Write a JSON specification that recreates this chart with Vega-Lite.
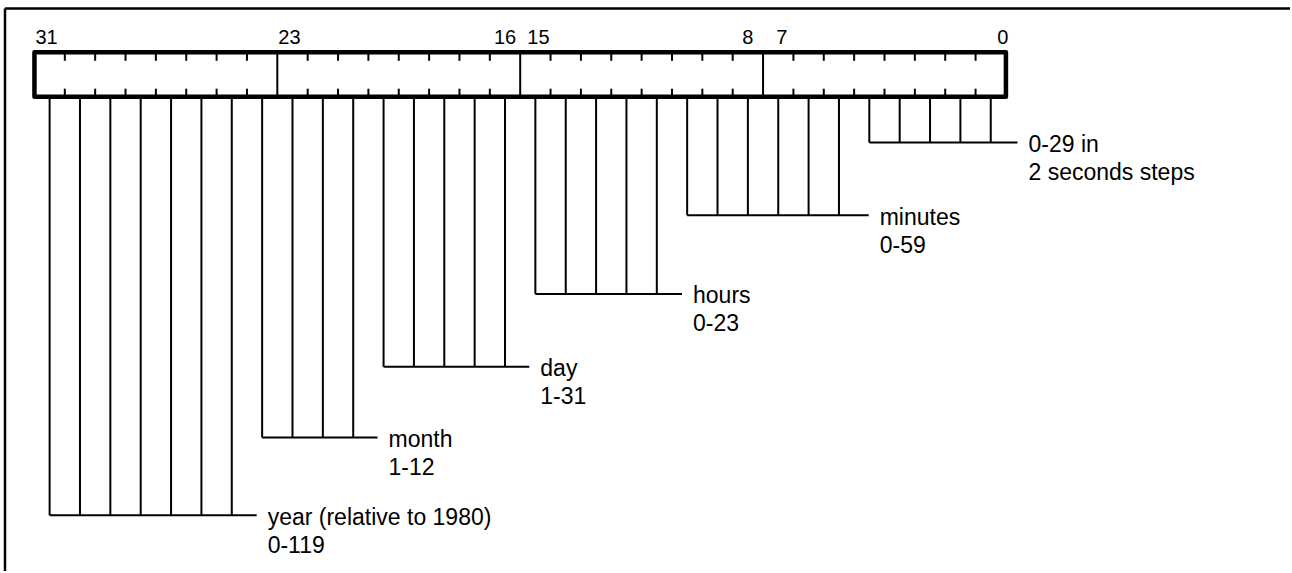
{
  "$schema": "https://vega.github.io/schema/vega-lite/v6.json",
  "width": 1292,
  "height": 573,
  "padding": 0,
  "autosize": {"type": "fit", "contains": "padding"},
  "background": "white",
  "config": {"view": {"stroke": null}},
  "datasets": {
    "fields": [
      {"field": "seconds", "hi": 4, "lo": 0, "end": -0.88, "depth": 143, "label": "0-29 in\n2 seconds steps"},
      {"field": "minutes", "hi": 10, "lo": 5, "end": 4.02, "depth": 216, "label": "minutes\n0-59"},
      {"field": "hours", "hi": 15, "lo": 11, "end": 10.17, "depth": 295, "label": "hours\n0-23"},
      {"field": "day", "hi": 20, "lo": 16, "end": 15.2, "depth": 368, "label": "day\n1-31"},
      {"field": "month", "hi": 24, "lo": 21, "end": 20.2, "depth": 439, "label": "month\n1-12"},
      {"field": "year", "hi": 31, "lo": 25, "end": 24.18, "depth": 517, "label": "year (relative to 1980)\n0-119"}
    ],
    "bits": [
      {"bit": 0, "field": "seconds", "top": 97, "depth": 143}, {"bit": 1, "field": "seconds", "top": 97, "depth": 143}, {"bit": 2, "field": "seconds", "top": 97, "depth": 143}, {"bit": 3, "field": "seconds", "top": 97, "depth": 143}, {"bit": 4, "field": "seconds", "top": 97, "depth": 143},
      {"bit": 5, "field": "minutes", "top": 97, "depth": 216}, {"bit": 6, "field": "minutes", "top": 97, "depth": 216}, {"bit": 7, "field": "minutes", "top": 97, "depth": 216}, {"bit": 8, "field": "minutes", "top": 97, "depth": 216}, {"bit": 9, "field": "minutes", "top": 97, "depth": 216}, {"bit": 10, "field": "minutes", "top": 97, "depth": 216},
      {"bit": 11, "field": "hours", "top": 97, "depth": 295}, {"bit": 12, "field": "hours", "top": 97, "depth": 295}, {"bit": 13, "field": "hours", "top": 97, "depth": 295}, {"bit": 14, "field": "hours", "top": 97, "depth": 295}, {"bit": 15, "field": "hours", "top": 97, "depth": 295},
      {"bit": 16, "field": "day", "top": 97, "depth": 368}, {"bit": 17, "field": "day", "top": 97, "depth": 368}, {"bit": 18, "field": "day", "top": 97, "depth": 368}, {"bit": 19, "field": "day", "top": 97, "depth": 368}, {"bit": 20, "field": "day", "top": 97, "depth": 368},
      {"bit": 21, "field": "month", "top": 97, "depth": 439}, {"bit": 22, "field": "month", "top": 97, "depth": 439}, {"bit": 23, "field": "month", "top": 97, "depth": 439}, {"bit": 24, "field": "month", "top": 97, "depth": 439},
      {"bit": 25, "field": "year", "top": 97, "depth": 517}, {"bit": 26, "field": "year", "top": 97, "depth": 517}, {"bit": 27, "field": "year", "top": 97, "depth": 517}, {"bit": 28, "field": "year", "top": 97, "depth": 517}, {"bit": 29, "field": "year", "top": 97, "depth": 517}, {"bit": 30, "field": "year", "top": 97, "depth": 517}, {"bit": 31, "field": "year", "top": 97, "depth": 517}
    ],
    "ticks": [
      {"b": 0.5, "y1": 52.5, "y2": 61}, {"b": 1.5, "y1": 52.5, "y2": 61}, {"b": 2.5, "y1": 52.5, "y2": 61}, {"b": 3.5, "y1": 52.5, "y2": 61}, {"b": 4.5, "y1": 52.5, "y2": 61}, {"b": 5.5, "y1": 52.5, "y2": 61}, {"b": 6.5, "y1": 52.5, "y2": 61},
      {"b": 8.5, "y1": 52.5, "y2": 61}, {"b": 9.5, "y1": 52.5, "y2": 61}, {"b": 10.5, "y1": 52.5, "y2": 61}, {"b": 11.5, "y1": 52.5, "y2": 61}, {"b": 12.5, "y1": 52.5, "y2": 61}, {"b": 13.5, "y1": 52.5, "y2": 61}, {"b": 14.5, "y1": 52.5, "y2": 61},
      {"b": 16.5, "y1": 52.5, "y2": 61}, {"b": 17.5, "y1": 52.5, "y2": 61}, {"b": 18.5, "y1": 52.5, "y2": 61}, {"b": 19.5, "y1": 52.5, "y2": 61}, {"b": 20.5, "y1": 52.5, "y2": 61}, {"b": 21.5, "y1": 52.5, "y2": 61}, {"b": 22.5, "y1": 52.5, "y2": 61},
      {"b": 24.5, "y1": 52.5, "y2": 61}, {"b": 25.5, "y1": 52.5, "y2": 61}, {"b": 26.5, "y1": 52.5, "y2": 61}, {"b": 27.5, "y1": 52.5, "y2": 61}, {"b": 28.5, "y1": 52.5, "y2": 61}, {"b": 29.5, "y1": 52.5, "y2": 61}, {"b": 30.5, "y1": 52.5, "y2": 61},
      {"b": 0.5, "y1": 89, "y2": 97}, {"b": 1.5, "y1": 89, "y2": 97}, {"b": 2.5, "y1": 89, "y2": 97}, {"b": 3.5, "y1": 89, "y2": 97}, {"b": 4.5, "y1": 89, "y2": 97}, {"b": 5.5, "y1": 89, "y2": 97}, {"b": 6.5, "y1": 89, "y2": 97},
      {"b": 8.5, "y1": 89, "y2": 97}, {"b": 9.5, "y1": 89, "y2": 97}, {"b": 10.5, "y1": 89, "y2": 97}, {"b": 11.5, "y1": 89, "y2": 97}, {"b": 12.5, "y1": 89, "y2": 97}, {"b": 13.5, "y1": 89, "y2": 97}, {"b": 14.5, "y1": 89, "y2": 97},
      {"b": 16.5, "y1": 89, "y2": 97}, {"b": 17.5, "y1": 89, "y2": 97}, {"b": 18.5, "y1": 89, "y2": 97}, {"b": 19.5, "y1": 89, "y2": 97}, {"b": 20.5, "y1": 89, "y2": 97}, {"b": 21.5, "y1": 89, "y2": 97}, {"b": 22.5, "y1": 89, "y2": 97},
      {"b": 24.5, "y1": 89, "y2": 97}, {"b": 25.5, "y1": 89, "y2": 97}, {"b": 26.5, "y1": 89, "y2": 97}, {"b": 27.5, "y1": 89, "y2": 97}, {"b": 28.5, "y1": 89, "y2": 97}, {"b": 29.5, "y1": 89, "y2": 97}, {"b": 30.5, "y1": 89, "y2": 97}
    ],
    "dividers": [{"b": 7.5, "y1": 52.5, "y2": 97}, {"b": 15.5, "y1": 52.5, "y2": 97}, {"b": 23.5, "y1": 52.5, "y2": 97}],
    "bitlabels": [
      {"text": "31", "pos": 31.1, "y": 44.5},
      {"text": "23", "pos": 23.1, "y": 44.5},
      {"text": "16", "pos": 16.0, "y": 44.5},
      {"text": "15", "pos": 14.9, "y": 44.5},
      {"text": "8", "pos": 8.0, "y": 44.5},
      {"text": "7", "pos": 6.88, "y": 44.5},
      {"text": "0", "pos": -0.4, "y": 44.5}
    ],
    "frameTop": [{"side": "top", "x1": 32.47, "x2": -9.857, "y": 8.5}],
    "frameLeft": [{"side": "left", "x": 32.47, "y1": 8.5, "y2": 573}],
    "register": [{"name": "DOS date/time", "left": 31.5, "right": -0.5, "top": 52.5, "bottom": 97}]
  },
  "layer": [
    {
      "data": {"name": "frameTop"},
      "mark": {"type": "rule", "color": "black", "strokeWidth": 2.5},
      "encoding": {
        "x": {"field": "x1", "type": "quantitative", "scale": {"domain": [-9.857, 32.6346], "reverse": true, "nice": false, "zero": false}, "axis": null},
        "x2": {"field": "x2"},
        "y": {"field": "y", "type": "quantitative", "scale": {"domain": [0, 573], "reverse": true, "nice": false, "zero": false}, "axis": null}
      }
    },
    {
      "data": {"name": "frameLeft"},
      "mark": {"type": "rule", "color": "black", "strokeWidth": 2.5},
      "encoding": {
        "x": {"field": "x", "type": "quantitative", "scale": {"domain": [-9.857, 32.6346], "reverse": true, "nice": false, "zero": false}, "axis": null},
        "y": {"field": "y1", "type": "quantitative", "scale": {"domain": [0, 573], "reverse": true, "nice": false, "zero": false}, "axis": null},
        "y2": {"field": "y2"}
      }
    },
    {
      "data": {"name": "bits"},
      "mark": {"type": "rule", "color": "black", "strokeWidth": 2},
      "encoding": {
        "x": {"field": "bit", "type": "quantitative", "scale": {"domain": [-9.857, 32.6346], "reverse": true, "nice": false, "zero": false}, "axis": null},
        "y": {"field": "top", "type": "quantitative", "scale": {"domain": [0, 573], "reverse": true, "nice": false, "zero": false}, "axis": null},
        "y2": {"field": "depth"}
      }
    },
    {
      "data": {"name": "fields"},
      "mark": {"type": "rule", "color": "black", "strokeWidth": 2},
      "encoding": {
        "x": {"field": "hi", "type": "quantitative", "scale": {"domain": [-9.857, 32.6346], "reverse": true, "nice": false, "zero": false}, "axis": null},
        "x2": {"field": "end"},
        "y": {"field": "depth", "type": "quantitative", "scale": {"domain": [0, 573], "reverse": true, "nice": false, "zero": false}, "axis": null}
      }
    },
    {
      "data": {"name": "fields"},
      "mark": {"type": "text", "font": "Liberation Sans", "fontSize": 23, "align": "left", "baseline": "alphabetic", "dx": 11, "dy": 9.5, "lineBreak": "\n", "lineHeight": 28, "color": "black"},
      "encoding": {
        "x": {"field": "end", "type": "quantitative", "scale": {"domain": [-9.857, 32.6346], "reverse": true, "nice": false, "zero": false}, "axis": null},
        "y": {"field": "depth", "type": "quantitative", "scale": {"domain": [0, 573], "reverse": true, "nice": false, "zero": false}, "axis": null},
        "text": {"field": "label", "type": "nominal"}
      }
    },
    {
      "data": {"name": "register"},
      "mark": {"type": "rect", "fill": "white", "fillOpacity": 0, "stroke": "black", "strokeWidth": 4.5, "strokeJoin": "round"},
      "encoding": {
        "x": {"field": "left", "type": "quantitative", "scale": {"domain": [-9.857, 32.6346], "reverse": true, "nice": false, "zero": false}, "axis": null},
        "x2": {"field": "right"},
        "y": {"field": "top", "type": "quantitative", "scale": {"domain": [0, 573], "reverse": true, "nice": false, "zero": false}, "axis": null},
        "y2": {"field": "bottom"}
      }
    },
    {
      "data": {"name": "dividers"},
      "mark": {"type": "rule", "color": "black", "strokeWidth": 2},
      "encoding": {
        "x": {"field": "b", "type": "quantitative", "scale": {"domain": [-9.857, 32.6346], "reverse": true, "nice": false, "zero": false}, "axis": null},
        "y": {"field": "y1", "type": "quantitative", "scale": {"domain": [0, 573], "reverse": true, "nice": false, "zero": false}, "axis": null},
        "y2": {"field": "y2"}
      }
    },
    {
      "data": {"name": "ticks"},
      "mark": {"type": "rule", "color": "black", "strokeWidth": 2},
      "encoding": {
        "x": {"field": "b", "type": "quantitative", "scale": {"domain": [-9.857, 32.6346], "reverse": true, "nice": false, "zero": false}, "axis": null},
        "y": {"field": "y1", "type": "quantitative", "scale": {"domain": [0, 573], "reverse": true, "nice": false, "zero": false}, "axis": null},
        "y2": {"field": "y2"}
      }
    },
    {
      "data": {"name": "bitlabels"},
      "mark": {"type": "text", "font": "Liberation Sans", "fontSize": 20, "align": "center", "baseline": "alphabetic", "color": "black"},
      "encoding": {
        "x": {"field": "pos", "type": "quantitative", "scale": {"domain": [-9.857, 32.6346], "reverse": true, "nice": false, "zero": false}, "axis": null},
        "y": {"field": "y", "type": "quantitative", "scale": {"domain": [0, 573], "reverse": true, "nice": false, "zero": false}, "axis": null},
        "text": {"field": "text", "type": "nominal"}
      }
    }
  ]
}
